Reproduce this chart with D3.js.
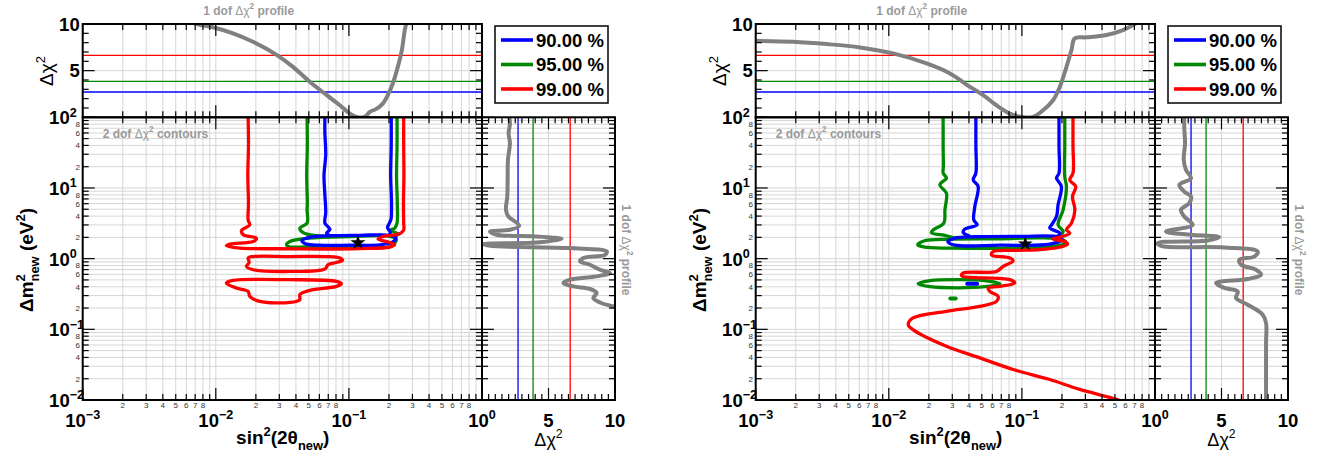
<!DOCTYPE html>
<html><head><meta charset="utf-8">
<script src="https://cdn.jsdelivr.net/npm/d3@7"></script>
<style>body{margin:0;background:#fff}svg{display:block}text{font-family:"Liberation Sans",Arial,Helvetica,sans-serif;white-space:pre}</style>
</head><body>
<svg id="c" width="1323" height="455"></svg>
<script>
// ---------------- data ----------------
const clLabels = ["90.00 %", "95.00 %", "99.00 %"];
const clColors = ["#0000ff", "#008800", "#ff0000"];
const chi2Thresholds = [2.71, 3.84, 6.63];
const xMinorLabelDigits = [2, 3, 4, 5, 6, 7, 8];
const yMinorLabelDigits = [2, 4, 6, 8];
const topYLabels = [5, 10];
const sideXLabels = [5, 10];

// left figure: 1-dof profiles
const leftTopProfile = [[0.0060,10.5],[0.00721,10.0],[0.00951,9.65],[0.01346,9.0],[0.0190,8.1],[0.0288,6.67],[0.0380,5.41],[0.0508,3.81],[0.0682,2.37],[0.0855,1.29],[0.1016,0.40],[0.1146,0.05],[0.1316,0.05],[0.1435,0.57],[0.1618,0.93],[0.1797,1.47],[0.1960,2.37],[0.2137,3.62],[0.2332,5.41],[0.2500,7.2],[0.263,9.35],[0.275,10.5]];
const leftSideProfile = [[2.05,100],[2.1,80],[2.0,60],[2.1,43],[1.95,25],[1.93,14.5],[1.9,7.57],[1.80,4.91],[1.98,3.95],[2.48,3.35],[2.80,2.92],[2.11,2.56],[0.60,2.42],[1.10,2.18],[4.11,2.06],[5.99,1.91],[4.11,1.69],[0.10,1.61],[0.60,1.52],[6.62,1.41],[9.38,1.26],[9.25,1.135],[7.62,1.02],[7.37,0.914],[8.12,0.820],[8.87,0.697],[9.62,0.627],[8.62,0.561],[6.62,0.504],[6.12,0.452],[6.87,0.405],[8.12,0.372],[8.62,0.327],[8.37,0.277],[8.87,0.240],[9.62,0.216],[10,0.207],[10.5,0.19]];
// left figure: 2-dof contours
const leftBlueLeft = [[0.066,100],[0.066,60],[0.067,30],[0.065,15],[0.066,8],[0.067,4.5],[0.066,3.2],[0.070,2.8],[0.072,2.6],[0.068,2.3],[0.072,2.12]];
const leftBlueIsland = [[0.0443,1.79],[0.0509,2.00],[0.0719,2.11],[0.121,2.14],[0.203,2.14],[0.225,1.97],[0.214,1.73],[0.171,1.57],[0.102,1.55],[0.0605,1.55],[0.0474,1.62]];
const leftBlueRight = [[0.208,100],[0.208,40],[0.206,15],[0.209,6],[0.207,3.6],[0.200,3.1],[0.195,2.75],[0.205,2.35],[0.200,2.14]];
const leftGreenLeft = [[0.0485,100],[0.0487,40],[0.0482,15],[0.0487,6],[0.0485,4.9],[0.0485,3.18],[0.0428,2.71],[0.0453,2.34],[0.0571,2.11],[0.07,2.05]];
const leftGreenIsland = [[0.0340,1.57],[0.0360,1.75],[0.05,1.95],[0.1,2.05],[0.203,2.06],[0.2275,1.85],[0.203,1.49],[0.114,1.46],[0.0481,1.46],[0.0350,1.49]];
const leftGreenRight = [[0.230,100],[0.230,40],[0.228,15],[0.231,6],[0.230,3.18],[0.221,2.71],[0.203,2.50],[0.234,2.25],[0.225,2.06]];
const leftRedMain = [[0.0175,100],[0.0176,40],[0.0174,15],[0.0176,6],[0.0175,3.5],[0.0180,3.01],[0.0156,2.50],[0.0161,2.18],[0.0202,1.95],[0.0191,1.75],[0.0128,1.61],[0.0120,1.52],[0.0152,1.41],[0.030,1.38],[0.064,1.37],[0.120,1.39],[0.203,1.46],[0.221,1.57],[0.203,1.69],[0.1656,1.89],[0.1807,2.06],[0.241,2.25],[0.258,2.56],[0.258,3.18],[0.257,6],[0.259,15],[0.258,40],[0.258,100]];
const leftRedLoopA = [[0.0175,1.02],[0.0191,1.07],[0.036,1.07],[0.0679,1.07],[0.0855,1.02],[0.0895,0.944],[0.0807,0.883],[0.0698,0.820],[0.0660,0.713],[0.036,0.659],[0.0191,0.697],[0.0170,0.776],[0.0178,0.883]];
const leftRedLoopB = [[0.0120,0.452],[0.0135,0.492],[0.036,0.504],[0.0807,0.477],[0.0879,0.442],[0.0807,0.405],[0.0509,0.356],[0.0428,0.309],[0.0428,0.263],[0.036,0.240],[0.0214,0.249],[0.0180,0.292],[0.0175,0.344],[0.0143,0.384]];
const leftBestFit = [0.117, 1.68];

// right figure: 1-dof profiles
const rightTopProfile = [[0.001,8.2],[0.00191,8.1],[0.00341,7.85],[0.00607,7.49],[0.01079,6.85],[0.01923,5.77],[0.0288,4.70],[0.0407,3.26],[0.0512,2.37],[0.0644,1.29],[0.0811,0.40],[0.0964,0.05],[0.1213,0.05],[0.1442,0.75],[0.1714,1.83],[0.1926,3.26],[0.2163,5.41],[0.2357,7.2],[0.2495,8.46],[0.3055,8.57],[0.4315,8.82],[0.575,9.35],[0.684,9.89],[0.77,10.3]];
const rightSideProfile = [[2.2,100],[2.2,70],[2.26,43],[2.16,24.9],[2.33,18],[2.71,13.7],[1.83,11.1],[2.2,8.89],[2.71,7.57],[2.58,6.10],[1.95,4.91],[2.2,3.95],[2.83,3.01],[0.83,2.42],[2.71,2.18],[4.83,2.02],[3.96,1.81],[0.2,1.66],[0.45,1.52],[5.21,1.44],[7.72,1.26],[7.47,1.07],[6.34,0.964],[6.47,0.820],[7.59,0.697],[7.97,0.592],[6.97,0.515],[4.59,0.452],[5.21,0.385],[6.22,0.344],[6.09,0.277],[6.97,0.223],[8.10,0.161],[8.35,0.123],[8.35,0.0643],[8.35,0.0113],[8.35,0.009]];
// right figure: 2-dof contours
const rightBlueLeft = [[0.0451,100],[0.0451,40],[0.0451,16.2],[0.0431,13.0],[0.0469,10.5],[0.0443,5.46],[0.0435,3.54],[0.0461,3.01],[0.0373,2.62],[0.0362,2.34],[0.040,2.1]];
const rightBlueIsland = [[0.0278,1.73],[0.0313,1.95],[0.0443,2.04],[0.0964,2.07],[0.186,2.04],[0.200,1.85],[0.162,1.60],[0.0683,1.55],[0.0313,1.55]];
const rightBlueRight = [[0.190,100],[0.190,40],[0.190,16.2],[0.182,13.8],[0.198,10.5],[0.187,5.8],[0.182,3.95],[0.167,3.01],[0.162,2.71],[0.193,2.30],[0.185,2.07]];
const rightBlueDash = [[0.0388,0.442],[0.0461,0.442]];
const rightGreenLeft = [[0.0256,100],[0.0256,40],[0.0257,20],[0.0256,16.2],[0.0271,13.8],[0.0242,11.1],[0.0271,8.45],[0.0264,4.91],[0.0259,3.18],[0.0216,2.56],[0.0209,2.34],[0.0271,2.11],[0.0313,1.95]];
const rightGreenIsland = [[0.0165,1.57],[0.0186,1.79],[0.0288,1.88],[0.0683,1.91],[0.136,1.97],[0.203,1.85],[0.214,1.68],[0.162,1.47],[0.0683,1.40],[0.0288,1.41],[0.0186,1.45]];
const rightGreenRight = [[0.210,100],[0.210,40],[0.210,14.5],[0.216,10.5],[0.204,4.91],[0.187,3.01],[0.204,2.42],[0.19,2.05]];
const rightGreenIsland2 = [[0.0166,0.442],[0.0204,0.488],[0.0336,0.504],[0.0526,0.488],[0.0683,0.442],[0.0526,0.402],[0.0336,0.387],[0.0204,0.402]];
const rightGreenDot = [[0.0290,0.272],[0.0318,0.272]];
const rightRedMain = [[0.242,100],[0.242,40],[0.242,16.2],[0.229,13.0],[0.254,10.5],[0.240,7.57],[0.250,4.91],[0.236,3.18],[0.216,2.56],[0.229,2.30],[0.19,2.0],[0.17,1.9],[0.214,1.72],[0.22,1.6],[0.19,1.45],[0.136,1.34],[0.0910,1.31],[0.0608,1.26],[0.0591,1.13],[0.0811,1.02],[0.0859,0.93],[0.0722,0.776],[0.0644,0.659],[0.0362,0.626],[0.0352,0.573],[0.0811,0.504],[0.0885,0.452],[0.0683,0.405],[0.0557,0.384],[0.0574,0.344],[0.0663,0.292],[0.0644,0.249],[0.0483,0.211],[0.0271,0.180],[0.0152,0.145],[0.0140,0.116],[0.0152,0.099],[0.0271,0.0575],[0.0483,0.0394],[0.0859,0.0270],[0.162,0.0195],[0.272,0.0141],[0.513,0.0102],[0.6,0.009]];
const rightBestFit = [0.106, 1.62];

// ---------------- drawing ----------------
const svg = d3.select("#c");
const GRAY = "#9a9a9a";

function rich(parent, segs, fs, weight, fill) {
  const g = parent.append("g");
  let x = 0, lastStart = 0;
  segs.forEach(s => {
    const small = s.sup || s.sub;
    const size = small ? fs * 0.68 : fs;
    const dy = s.sup ? -fs * 0.42 : s.sub ? fs * 0.32 : 0;
    const start = s.stack ? lastStart : x;
    const t = g.append("text").attr("x", start).attr("y", dy)
      .attr("xml:space", "preserve")
      .attr("font-size", size).attr("font-weight", s.w || weight)
      .attr("fill", fill).text(s.t);
    const w = t.node().getComputedTextLength();
    if (s.stack) x = Math.max(x, start + w);
    else { lastStart = start; x = start + w; }
  });
  return { g, width: x };
}

function figure(ox, d, id) {
  const X0 = 82.7 + ox, X1 = 482 + ox, XS = 615 + ox, YT = 24, YM = 117.3, YB = 400;
  const x = d3.scaleLog().domain([1e-3, 1]).range([X0, X1]);
  const y = d3.scaleLog().domain([1e-2, 1e2]).range([YB, YM]);
  const yt = d3.scaleLinear().domain([0, 10]).range([YM, YT]);
  const xs = d3.scaleLinear().domain([0, 10]).range([X1, XS]);
  const g = svg.append("g");
  const defs = g.append("defs");
  defs.append("clipPath").attr("id", "m" + id).append("rect").attr("x", X0).attr("y", YM).attr("width", X1 - X0).attr("height", YB - YM);
  defs.append("clipPath").attr("id", "t" + id).append("rect").attr("x", X0).attr("y", YT).attr("width", X1 - X0).attr("height", YM - YT);
  defs.append("clipPath").attr("id", "s" + id).append("rect").attr("x", X1).attr("y", YM).attr("width", XS - X1).attr("height", YB - YM);

  const xt = x.ticks(), ytk = y.ticks();
  const isDec = v => Math.abs(Math.log10(v) - Math.round(Math.log10(v))) < 1e-6;
  const lead = v => Math.round(v / Math.pow(10, Math.floor(Math.log10(v) + 1e-9)));

  // grids
  const gr = g.append("g").attr("stroke", "#d6d6d6").attr("stroke-width", 1).attr("fill", "none");
  xt.forEach(v => { gr.append("line").attr("x1", x(v)).attr("x2", x(v)).attr("y1", YT).attr("y2", YB); });
  ytk.forEach(v => { gr.append("line").attr("x1", X0).attr("x2", XS).attr("y1", y(v)).attr("y2", y(v)); });
  gr.append("line").attr("x1", X0).attr("x2", X1).attr("y1", yt(5)).attr("y2", yt(5));
  gr.append("line").attr("x1", xs(5)).attr("x2", xs(5)).attr("y1", YM).attr("y2", YB);

  // threshold lines
  chi2Thresholds.forEach((c, i) => {
    g.append("line").attr("x1", X0).attr("x2", X1).attr("y1", yt(c)).attr("y2", yt(c)).attr("stroke", clColors[i]).attr("stroke-width", 1.3);
    g.append("line").attr("x1", xs(c)).attr("x2", xs(c)).attr("y1", YM).attr("y2", YB).attr("stroke", clColors[i]).attr("stroke-width", 1.3);
  });

  // profiles
  const lineTop = d3.line().x(p => x(p[0])).y(p => yt(p[1])).curve(d3.curveCatmullRom.alpha(0.5));
  g.append("path").attr("clip-path", `url(#t${id})`).attr("d", lineTop(d.top)).attr("fill", "none").attr("stroke", "#808080").attr("stroke-width", 4);
  const lineSide = d3.line().x(p => xs(p[0])).y(p => y(p[1])).curve(d3.curveCatmullRom.alpha(0.5));
  g.append("path").attr("clip-path", `url(#s${id})`).attr("d", lineSide(d.side)).attr("fill", "none").attr("stroke", "#808080").attr("stroke-width", 4);

  // contours
  const cg = g.append("g").attr("clip-path", `url(#m${id})`).attr("fill", "none").attr("stroke-linejoin", "round").attr("stroke-linecap", "round");
  const lo = d3.line().x(p => x(p[0])).y(p => y(p[1])).curve(d3.curveCatmullRom.alpha(0.5));
  const lc = d3.line().x(p => x(p[0])).y(p => y(p[1])).curve(d3.curveCatmullRomClosed.alpha(0.5));
  d.contours.forEach(c => {
    cg.append("path").attr("d", (c.closed ? lc : lo)(c.pts)).attr("stroke", clColors[c.cl]).attr("stroke-width", c.w || 3.3);
  });
  g.append("path").attr("d", d3.symbol(d3.symbolStar, 70)()).attr("transform", `translate(${x(d.best[0])},${y(d.best[1])})`).attr("fill", "#000");

  // ticks
  const tk = g.append("g").attr("stroke", "#000").attr("stroke-width", 1.2);
  const tl = (x1, y1, x2, y2) => tk.append("line").attr("x1", x1).attr("y1", y1).attr("x2", x2).attr("y2", y2);
  xt.forEach(v => {
    const L = isDec(v) ? 12 : 6, px = x(v);
    tl(px, YB, px, YB - L); tl(px, YM, px, YM + L); tl(px, YM, px, YM - L); tl(px, YT, px, YT + L);
  });
  ytk.forEach(v => {
    const L = isDec(v) ? 12 : 6, py = y(v);
    tl(X0, py, X0 + L, py); tl(X1, py, X1 - L, py); tl(X1, py, X1 + L, py); tl(XS, py, XS - L, py);
  });
  d3.range(0, 10.01, 1).forEach(v => {
    const L = v % 5 === 0 ? 12 : 6, py = yt(v);
    tl(X0, py, X0 + L, py); tl(X1, py, X1 - L, py);
  });
  d3.range(0, 10.01, 0.5).forEach(v => {
    const L = v % 5 === 0 ? 12 : 6, px = xs(v);
    tl(px, YB, px, YB - L); tl(px, YM, px, YM + L);
  });

  // frames
  const fr = g.append("g").attr("fill", "none").attr("stroke", "#000").attr("stroke-width", 2);
  fr.append("rect").attr("x", X0).attr("y", YT).attr("width", X1 - X0).attr("height", YM - YT);
  fr.append("rect").attr("x", X0).attr("y", YM).attr("width", X1 - X0).attr("height", YB - YM);
  fr.append("rect").attr("x", X1).attr("y", YM).attr("width", XS - X1).attr("height", YB - YM);

  // small labels
  const lab = g.append("g").attr("fill", "#333").attr("font-size", 8).attr("text-anchor", "middle");
  xt.filter(v => !isDec(v) && xMinorLabelDigits.includes(lead(v))).forEach(v => {
    lab.append("text").attr("x", x(v)).attr("y", 408).text(lead(v));
  });
  ytk.filter(v => !isDec(v) && yMinorLabelDigits.includes(lead(v))).forEach(v => {
    lab.append("text").attr("x", X0 - 5).attr("y", y(v) + 3).text(lead(v));
  });

  // decade labels
  const decX = xt.filter(isDec), decY = ytk.filter(isDec);
  decX.forEach(v => {
    const e = Math.round(Math.log10(v));
    const r = rich(g, [{ t: "10" }, { t: String(e).replace("-", "\u2212"), sup: true }], 18.5, "bold", "#000");
    r.g.attr("transform", `translate(${x(v) - r.width / 2},427)`);
  });
  decY.forEach(v => {
    const e = Math.round(Math.log10(v));
    const r = rich(g, [{ t: "10" }, { t: String(e).replace("-", "\u2212"), sup: true }], 18.5, "bold", "#000");
    const w10 = r.g.select("text").node().getComputedTextLength();
    r.g.attr("transform", `translate(${X0 - 13 - w10},${y(v) + 7})`);
  });
  topYLabels.forEach(v => {
    g.append("text").attr("x", X0 - 3).attr("y", yt(v) + 6.5).attr("text-anchor", "end").attr("font-size", 18.5).attr("font-weight", "bold").text(v);
  });
  sideXLabels.forEach(v => {
    g.append("text").attr("x", xs(v)).attr("y", 427).attr("text-anchor", "middle").attr("font-size", 18.5).attr("font-weight", "bold").text(v);
  });

  // axis titles
  let r = rich(g, [{ t: "sin" }, { t: "2", sup: true }, { t: "(2\u03b8" }, { t: "new", sub: true }, { t: ")" }], 19, "bold", "#000");
  r.g.attr("transform", `translate(${X0 + 200 - r.width / 2},444)`);
  r = rich(g, [{ t: "\u0394\u03c7" }, { t: "2", sup: true }], 18, "normal", "#000");
  r.g.attr("transform", `translate(${xs(5) - r.width / 2},446)`);
  r = rich(g, [{ t: "\u0394m" }, { t: "2", sup: true }, { t: "new", sub: true, stack: true }, { t: " (eV" }, { t: "2", sup: true }, { t: ")" }], 19, "bold", "#000");
  r.g.attr("transform", `translate(${X0 - 50},260) rotate(-90) translate(${-r.width / 2},0)`);
  r = rich(g, [{ t: "\u0394\u03c7" }, { t: "2", sup: true }], 19, "normal", "#000");
  r.g.attr("transform", `translate(${X0 - 30},71) rotate(-90) translate(${-r.width / 2},0)`);

  // gray titles
  r = rich(g, [{ t: "1 dof " }, { t: "\u0394\u03c7", w: "normal" }, { t: "2", sup: true }, { t: " profile" }], 12, "bold", GRAY);
  r.g.attr("transform", `translate(${X0 + 166 - r.width / 2},14.5)`);
  r = rich(g, [{ t: "2 dof " }, { t: "\u0394\u03c7", w: "normal" }, { t: "2", sup: true }, { t: " contours" }], 12, "bold", GRAY);
  r.g.attr("transform", `translate(${X0 + 20},137.5)`);
  r = rich(g, [{ t: "1 dof " }, { t: "\u0394\u03c7", w: "normal" }, { t: "2", sup: true }, { t: " profile" }], 12, "bold", GRAY);
  r.g.attr("transform", `translate(${XS + 6.5},250) rotate(90) translate(${-r.width / 2},0)`);

  // legend
  const LX = X1 + 13, LY = 26;
  g.append("rect").attr("x", LX).attr("y", LY).attr("width", 113).attr("height", 77).attr("fill", "#fff").attr("stroke", "#111").attr("stroke-width", 1.6);
  clLabels.forEach((t, i) => {
    const cy = LY + 14 + i * 24.5;
    g.append("line").attr("x1", LX + 6).attr("x2", LX + 38).attr("y1", cy).attr("y2", cy).attr("stroke", clColors[i]).attr("stroke-width", 3.6);
    g.append("text").attr("x", LX + 41).attr("y", cy + 6.8).attr("font-size", 18.5).attr("font-weight", "bold").text(t);
  });
}

figure(0, {
  top: leftTopProfile, side: leftSideProfile, best: leftBestFit,
  contours: [
    { cl: 1, pts: leftGreenLeft }, { cl: 1, pts: leftGreenIsland, closed: true }, { cl: 1, pts: leftGreenRight },
    { cl: 0, pts: leftBlueLeft }, { cl: 0, pts: leftBlueIsland, closed: true }, { cl: 0, pts: leftBlueRight },
    { cl: 2, pts: leftRedMain }, { cl: 2, pts: leftRedLoopA, closed: true }, { cl: 2, pts: leftRedLoopB, closed: true }
  ]
}, "L");
figure(673, {
  top: rightTopProfile, side: rightSideProfile, best: rightBestFit,
  contours: [
    { cl: 1, pts: rightGreenLeft }, { cl: 1, pts: rightGreenIsland, closed: true }, { cl: 1, pts: rightGreenRight },
    { cl: 1, pts: rightGreenIsland2, closed: true }, { cl: 1, pts: rightGreenDot, w: 4 },
    { cl: 0, pts: rightBlueLeft }, { cl: 0, pts: rightBlueIsland, closed: true }, { cl: 0, pts: rightBlueRight },
    { cl: 0, pts: rightBlueDash, w: 4 },
    { cl: 2, pts: rightRedMain }
  ]
}, "R");
</script>
</body></html>
